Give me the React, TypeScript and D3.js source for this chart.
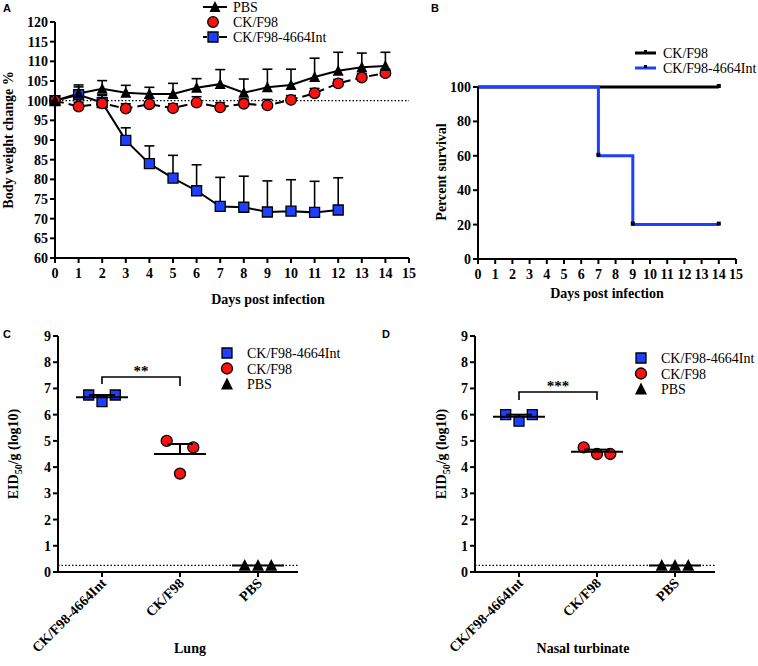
import React from "react";
import * as d3 from "d3";

// ---------- Panel A data ----------
const daysAll = [0, 1, 2, 3, 4, 5, 6, 7, 8, 9, 10, 11, 12, 13, 14];
const pbsMean = [100, 101.8, 103, 102, 101.7, 101.7, 103.3, 104.2, 102, 103.4, 104, 106, 107.6, 108.5, 108.8];
const pbsTop = [100, 104, 105.1, 103.9, 103.4, 104.4, 105.6, 107.9, 105.5, 108, 108, 110.8, 112.3, 112.1, 112.3];
const ckMean = [100, 98.5, 99.3, 98, 99.1, 98.1, 99.5, 98.3, 99.2, 98.8, 100.2, 101.9, 104.4, 105.9, 107];
const ckTop = [100, 99.6, 101.3, 99.2, 100.6, 99.2, 101, 99.5, 100.4, 100.3, 101.3, 103.1, 105.4, 106.9, 108];
const intDays = [0, 1, 2, 3, 4, 5, 6, 7, 8, 9, 10, 11, 12];
const intMean = [100, 101.5, 99.5, 89.9, 84, 80.3, 77.1, 73.1, 72.9, 71.7, 71.9, 71.6, 72.2];
const intTop = [100, 103.5, 101.5, 93.1, 88.5, 86.1, 83.7, 80.5, 80.8, 79.6, 79.9, 79.5, 80.4];
const yTicksA = [60, 65, 70, 75, 80, 85, 90, 95, 100, 105, 110, 115, 120];
const xTicksDays = [0, 1, 2, 3, 4, 5, 6, 7, 8, 9, 10, 11, 12, 13, 14, 15];
const legendA = ["PBS", "CK/F98", "CK/F98-4664Int"];

// ---------- Panel B data ----------
const survCKDays = [0, 14];
const survCKPct = [100, 100];
const survIntDays = [0, 7, 9, 14];
const survIntPct = [100, 60, 20, 20];
const yTicksB = [0, 20, 40, 60, 80, 100];
const legendB = ["CK/F98", "CK/F98-4664Int"];

// ---------- Panels C / D data ----------
const groups = ["CK/F98-4664Int", "CK/F98", "PBS"];
const lungInt = [6.75, 6.5, 6.75];
const lungCK = [5.0, 3.75, 4.75];
const lungPBS = [0.25, 0.25, 0.25];
const nasalInt = [6.0, 5.75, 6.0];
const nasalCK = [4.75, 4.5, 4.5];
const nasalPBS = [0.25, 0.25, 0.25];
const detectionLimit = 0.25;
const yTicksCD = [0, 1, 2, 3, 4, 5, 6, 7, 8, 9];
const legendCD = ["CK/F98-4664Int", "CK/F98", "PBS"];

const SERIF = "'Liberation Serif', 'Times New Roman', serif";
const SANS = "'Liberation Sans', Arial, sans-serif";
const BLUE = "#1f3fff";
const RED = "#ff1010";

function squarePath(cx: number, cy: number, s: number) {
  return `M${cx - s / 2},${cy - s / 2}h${s}v${s}h${-s}Z`;
}
function triPath(cx: number, cy: number, s: number) {
  const h = s * 0.9;
  return `M${cx},${cy - h / 2 - 1}L${cx + s / 2},${cy + h / 2}L${cx - s / 2},${cy + h / 2}Z`;
}

function PanelA() {
  const x = d3.scaleLinear().domain([0, 15]).range([55, 409]);
  const y = d3.scaleLinear().domain([60, 120]).range([258, 22]);
  const line = d3.line<[number, number]>().x((d) => x(d[0])).y((d) => y(d[1]));
  const pbsPts = daysAll.map((d, i) => [d, pbsMean[i]] as [number, number]);
  const ckPts = daysAll.map((d, i) => [d, ckMean[i]] as [number, number]);
  const intPts = intDays.map((d, i) => [d, intMean[i]] as [number, number]);
  const errBar = (d: number, m: number, t: number, key: string) =>
    t - m > 0.05 ? (
      <g key={key} stroke="#000" strokeWidth={1.6}>
        <line x1={x(d)} x2={x(d)} y1={y(m)} y2={y(t)} />
        <line x1={x(d) - 5} x2={x(d) + 5} y1={y(t)} y2={y(t)} />
      </g>
    ) : null;
  return (
    <g>
      <text x={3} y={12} fontFamily={SANS} fontWeight="bold" fontSize={11}>A</text>
      <line x1={x(0)} x2={x(15)} y1={y(100)} y2={y(100)} stroke="#000" strokeWidth={1.2} strokeDasharray="1.5,2" />
      {intDays.map((d, i) => errBar(d, intMean[i], intTop[i], "ie" + i))}
      {daysAll.map((d, i) => errBar(d, ckMean[i], ckTop[i], "ce" + i))}
      {daysAll.map((d, i) => errBar(d, pbsMean[i], pbsTop[i], "pe" + i))}
      <path d={line(intPts) || ""} fill="none" stroke="#000" strokeWidth={2} />
      <path d={line(ckPts) || ""} fill="none" stroke="#000" strokeWidth={2} strokeDasharray="9,5" />
      <path d={line(pbsPts) || ""} fill="none" stroke="#000" strokeWidth={2} />
      {intPts.map((p, i) => (
        <path key={"is" + i} d={squarePath(x(p[0]), y(p[1]), 10)} fill={BLUE} stroke="#000" strokeWidth={1.3} />
      ))}
      {ckPts.map((p, i) => (
        <circle key={"cc" + i} cx={x(p[0])} cy={y(p[1])} r={5.3} fill={RED} stroke="#000" strokeWidth={1.3} />
      ))}
      {pbsPts.map((p, i) => (
        <path key={"pt" + i} d={triPath(x(p[0]), y(p[1]), 11)} fill="#000" />
      ))}
      <g stroke="#000" strokeWidth={2}>
        <line x1={x(0)} x2={x(0)} y1={y(60) + 1} y2={y(120)} />
        <line x1={x(0) - 1} x2={x(15)} y1={y(60)} y2={y(60)} />
        {yTicksA.map((t) => (
          <line key={"yt" + t} x1={x(0) - 5} x2={x(0)} y1={y(t)} y2={y(t)} />
        ))}
        {xTicksDays.map((t) => (
          <line key={"xt" + t} x1={x(t)} x2={x(t)} y1={y(60)} y2={y(60) + 5} />
        ))}
      </g>
      <g fontFamily={SERIF} fontWeight="bold" fontSize={14}>
        {yTicksA.map((t) => (
          <text key={"yl" + t} x={x(0) - 7} y={y(t) + 5} textAnchor="end">{t}</text>
        ))}
        {xTicksDays.map((t) => (
          <text key={"xl" + t} x={x(t)} y={y(60) + 20} textAnchor="middle">{t}</text>
        ))}
        <text x={268} y={304} textAnchor="middle">Days post infection</text>
        <text transform={`translate(13,140) rotate(-90)`} textAnchor="middle">Body weight change %</text>
      </g>
      <g fontFamily={SERIF} fontSize={14}>
        <line x1={203} x2={227} y1={7} y2={7} stroke="#000" strokeWidth={2} />
        <path d={triPath(215, 7, 11)} fill="#000" />
        <text x={233} y={12}>{legendA[0]}</text>
        <circle cx={213} cy={22} r={5.3} fill={RED} stroke="#000" strokeWidth={1.3} />
        <text x={233} y={27}>{legendA[1]}</text>
        <line x1={203} x2={207} y1={37} y2={37} stroke="#000" strokeWidth={2} />
        <line x1={219} x2={227} y1={37} y2={37} stroke="#000" strokeWidth={2} />
        <path d={squarePath(213, 37, 10)} fill={BLUE} stroke="#000" strokeWidth={1.3} />
        <text x={233} y={42}>{legendA[2]}</text>
      </g>
    </g>
  );
}

function PanelB() {
  const x = d3.scaleLinear().domain([0, 15]).range([478, 736]);
  const y = d3.scaleLinear().domain([0, 100]).range([259, 87]);
  const step = d3.line<[number, number]>().x((d) => x(d[0])).y((d) => y(d[1])).curve(d3.curveStepAfter);
  const ckPts = survCKDays.map((d, i) => [d, survCKPct[i]] as [number, number]);
  const intPts = survIntDays.map((d, i) => [d, survIntPct[i]] as [number, number]);
  const marks = [...ckPts.slice(1), ...intPts.slice(1)];
  return (
    <g>
      <text x={431} y={12} fontFamily={SANS} fontWeight="bold" fontSize={11}>B</text>
      <path d={step(ckPts) || ""} fill="none" stroke="#000" strokeWidth={3} />
      <path d={step(intPts) || ""} fill="none" stroke={BLUE} strokeWidth={3} />
      {marks.map((p, i) => (
        <rect key={"m" + i} x={x(p[0]) - 2} y={y(p[1]) - 3} width={4} height={4} fill="#000" />
      ))}
      <g stroke="#000" strokeWidth={2}>
        <line x1={x(0)} x2={x(0)} y1={y(0) + 1} y2={y(100)} />
        <line x1={x(0) - 1} x2={x(15)} y1={y(0)} y2={y(0)} />
        {yTicksB.map((t) => (
          <line key={"yt" + t} x1={x(0) - 5} x2={x(0)} y1={y(t)} y2={y(t)} />
        ))}
        {xTicksDays.map((t) => (
          <line key={"xt" + t} x1={x(t)} x2={x(t)} y1={y(0)} y2={y(0) + 5} />
        ))}
      </g>
      <g fontFamily={SERIF} fontWeight="bold" fontSize={14}>
        {yTicksB.map((t) => (
          <text key={"yl" + t} x={x(0) - 7} y={y(t) + 5} textAnchor="end">{t}</text>
        ))}
        {xTicksDays.map((t) => (
          <text key={"xl" + t} x={x(t)} y={y(0) + 20} textAnchor="middle">{t}</text>
        ))}
        <text x={607} y={298} textAnchor="middle">Days post infection</text>
        <text transform={`translate(446,172) rotate(-90)`} textAnchor="middle">Percent survival</text>
      </g>
      <g fontFamily={SERIF} fontSize={14}>
        <line x1={635} x2={656} y1={53} y2={53} stroke="#000" strokeWidth={3} />
        <rect x={644} y={50} width={3} height={3} fill="#000" />
        <text x={663} y={58}>{legendB[0]}</text>
        <line x1={635} x2={656} y1={68} y2={68} stroke={BLUE} strokeWidth={3} />
        <rect x={644} y={65} width={3} height={3} fill="#000" />
        <text x={663} y={73}>{legendB[1]}</text>
      </g>
    </g>
  );
}

interface DotProps {
  x0: number;
  letter: string;
  letterX: number;
  title: string;
  titleX: number;
  yTitleX: number;
  intVals: number[];
  ckVals: number[];
  pbsVals: number[];
  stars: string;
  legendX: number;
  legendY: number;
  bracketY: number;
  bracketDrop: [number, number];
}

function DotPanel(p: DotProps) {
  const y = d3.scaleLinear().domain([0, 9]).range([572, 336]);
  const x = d3.scalePoint<string>().domain(groups).range([p.x0 + 44, p.x0 + 200]);
  const xEnd = p.x0 + 240;
  const sets = [p.intVals, p.ckVals, p.pbsVals];
  const off = [-13.3, 0, 13.3];
  const marker = (gi: number, cx: number, cy: number, key: string) =>
    gi === 0 ? (
      <path key={key} d={squarePath(cx, cy, 10)} fill={BLUE} stroke="#000" strokeWidth={1.3} />
    ) : gi === 1 ? (
      <circle key={key} cx={cx} cy={cy} r={5.5} fill={RED} stroke="#000" strokeWidth={1.3} />
    ) : (
      <path key={key} d={triPath(cx, cy, 12)} fill="#000" />
    );
  const b0 = x(groups[0]) as number;
  const b1 = x(groups[1]) as number;
  return (
    <g>
      <text x={p.letterX} y={338} fontFamily={SANS} fontWeight="bold" fontSize={11}>{p.letter}</text>
      <line x1={p.x0} x2={xEnd} y1={y(detectionLimit)} y2={y(detectionLimit)} stroke="#000" strokeWidth={1.3} strokeDasharray="1.5,2" />
      {sets.map((vals, gi) => {
        const cx = x(groups[gi]) as number;
        const m = d3.mean(vals) as number;
        const sem = (d3.deviation(vals) || 0) / Math.sqrt(vals.length);
        return (
          <g key={"g" + gi}>
            {vals.map((v, i) => marker(gi, cx + off[i], y(v), "mk" + gi + i))}
            <g stroke="#000" strokeWidth={2}>
              <line x1={cx - 26} x2={cx + 26} y1={y(m)} y2={y(m)} />
              {sem > 0 && <line x1={cx} x2={cx} y1={y(m)} y2={y(m + sem)} />}
              {sem > 0 && <line x1={cx - 13} x2={cx + 13} y1={y(m + sem)} y2={y(m + sem)} />}
            </g>
          </g>
        );
      })}
      <path
        d={`M${b0},${p.bracketY + p.bracketDrop[0]}V${p.bracketY}H${b1}V${p.bracketY + p.bracketDrop[1]}`}
        fill="none"
        stroke="#000"
        strokeWidth={1.6}
      />
      <text x={(b0 + b1) / 2} y={p.bracketY - 1} textAnchor="middle" fontFamily={SERIF} fontWeight="bold" fontSize={15}>{p.stars}</text>
      <g stroke="#000" strokeWidth={2}>
        <line x1={p.x0} x2={p.x0} y1={y(0) + 1} y2={y(9)} />
        <line x1={p.x0 - 1} x2={xEnd} y1={y(0)} y2={y(0)} />
        {yTicksCD.map((t) => (
          <line key={"yt" + t} x1={p.x0 - 5} x2={p.x0} y1={y(t)} y2={y(t)} />
        ))}
        {groups.map((g) => (
          <line key={"xt" + g} x1={x(g) as number} x2={x(g) as number} y1={y(0)} y2={y(0) + 5} />
        ))}
      </g>
      <g fontFamily={SERIF} fontWeight="bold" fontSize={14}>
        {yTicksCD.map((t) => (
          <text key={"yl" + t} x={p.x0 - 7} y={y(t) + 5} textAnchor="end">{t}</text>
        ))}
        {groups.map((g) => (
          <text key={"xl" + g} transform={`translate(${(x(g) as number) + 5},${y(0) + 12}) rotate(-45)`} textAnchor="end">{g}</text>
        ))}
        <text x={p.titleX} y={653} textAnchor="middle">{p.title}</text>
        <text transform={`translate(${p.yTitleX},454) rotate(-90)`} textAnchor="middle">
          EID<tspan fontSize={10} dy={4}>50</tspan><tspan dy={-4}>/g (log10)</tspan>
        </text>
      </g>
      <g fontFamily={SERIF} fontSize={14}>
        {legendCD.map((name, i) => {
          const gi = groups.indexOf(name);
          const ly = p.legendY + i * 15.5;
          return (
            <g key={"lg" + i}>
              {marker(gi, p.legendX, ly, "lm" + i)}
              <text x={p.legendX + 20} y={ly + 5}>{name}</text>
            </g>
          );
        })}
      </g>
    </g>
  );
}

export default function App() {
  return (
    <svg
      width={758}
      height={666}
      viewBox="0 0 758 666"
      style={{ position: "absolute", left: 0, top: 0, background: "#fff" }}
    >
      <rect width={758} height={666} fill="#fff" />
      <PanelA />
      <PanelB />
      <DotPanel
        x0={58}
        letter="C"
        letterX={3}
        title="Lung"
        titleX={190}
        yTitleX={18}
        intVals={lungInt}
        ckVals={lungCK}
        pbsVals={lungPBS}
        stars="**"
        legendX={227}
        legendY={353}
        bracketY={377}
        bracketDrop={[7, 9]}
      />
      <DotPanel
        x0={475}
        letter="D"
        letterX={382}
        title="Nasal turbinate"
        titleX={583}
        yTitleX={446}
        intVals={nasalInt}
        ckVals={nasalCK}
        pbsVals={nasalPBS}
        stars="***"
        legendX={641}
        legendY={358}
        bracketY={392}
        bracketDrop={[8, 8]}
      />
    </svg>
  );
}
